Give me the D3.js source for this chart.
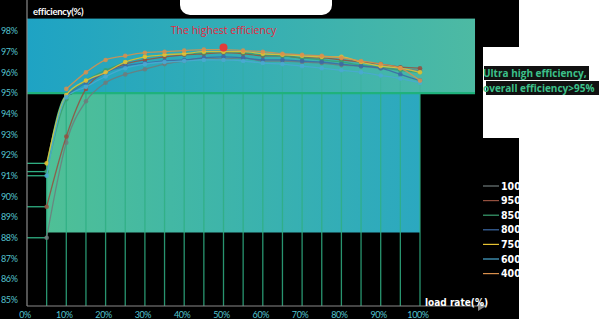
<!DOCTYPE html>
<html>
<head>
<meta charset="utf-8">
<script src="https://cdn.jsdelivr.net/npm/d3@7"></script>
<style>
  html, body { margin: 0; padding: 0; background: #fff; }
  svg { display: block; }
</style>
</head>
<body>
<svg id="chart" width="600" height="325"></svg>
<script>
// load rate points (%)
const loads = [5, 10, 15, 20, 25, 30, 35, 40, 45, 50, 55, 60, 65, 70, 75, 80, 85, 90, 95, 100]
const seriesNames = ["1000", "950", "850", "800", "750", "600", "400"]
const seriesColors = ["#6f7b7b", "#94503f", "#3aa070", "#3c6aa6", "#e6c232", "#4aa9d2", "#d98f4c"]

// efficiency (%)
const eff1000 = [88.0, 92.6, 94.6, 95.5, 95.9, 96.15, 96.4, 96.55, 96.7, 96.65, 96.7, 96.55, 96.55, 96.5, 96.45, 96.35, 96.3, 96.2, 96.15, 96.1]
const eff950 = [89.5, 92.9, 95.2, 96.0, 96.4, 96.6, 96.75, 96.85, 96.9, 96.95, 96.9, 96.8, 96.8, 96.7, 96.7, 96.6, 96.5, 96.4, 96.25, 96.2]
const eff850 = [91.2, 94.7, 95.6, 96.1, 96.5, 96.75, 96.85, 96.9, 96.95, 97.0, 96.95, 96.85, 96.8, 96.7, 96.6, 96.5, 96.35, 96.25, 96.1, 96.0]
const eff800 = [null, 94.9, 95.5, 96.0, 96.3, 96.45, 96.55, 96.6, 96.7, 96.75, 96.7, 96.6, 96.6, 96.55, 96.5, 96.4, 96.3, 96.2, 95.9, 95.6]
const eff750 = [91.6, 94.9, 95.6, 96.0, 96.5, 96.75, 96.85, 96.9, 97.0, 97.0, 97.0, 96.9, 96.85, 96.8, 96.75, 96.75, 96.5, 96.3, 96.2, 96.0]
const eff600 = [91.0, 94.8, 95.3, 95.8, 96.2, 96.4, 96.5, 96.55, 96.6, 96.6, 96.55, 96.45, 96.4, 96.3, 96.2, 96.1, 96.0, 95.85, 95.7, 95.5]
const eff400 = [null, 95.2, 96.0, 96.6, 96.8, 96.95, 97.0, 97.05, 97.1, 97.1, 97.05, 97.0, 96.9, 96.85, 96.8, 96.7, 96.55, 96.4, 96.2, 95.6]
const seriesValues = [eff1000, eff950, eff850, eff800, eff750, eff600, eff400]

const peak = { load: 50, eff: 97.2 }
const yTicks = [85, 86, 87, 88, 89, 90, 91, 92, 93, 94, 95, 96, 97, 98]
const xTicks = [0, 10, 20, 30, 40, 50, 60, 70, 80, 90, 100]
const threshold = 95
const fillFloor = 88.25
const note = ["Ultra high efficiency,", "overall efficiency>95%"]

const x = d3.scaleLinear().domain([0, 100]).range([27, 420])
const y = d3.scaleLinear().domain([84.7, 98]).range([306, 31])

const svg = d3.select("#chart")
const defs = svg.append("defs")

const gradTop = defs.append("linearGradient").attr("id", "gTop")
gradTop.append("stop").attr("offset", "0%").attr("stop-color", "#1ea3c4")
gradTop.append("stop").attr("offset", "100%").attr("stop-color", "#4dbaa3")
const gradLow = defs.append("linearGradient").attr("id", "gLow")
gradLow.append("stop").attr("offset", "0%").attr("stop-color", "#4fc096")
gradLow.append("stop").attr("offset", "100%").attr("stop-color", "#2ba8c0")

// background
svg.append("rect").attr("x", 0).attr("y", 0).attr("width", 519).attr("height", 319).attr("fill", "#000")
svg.append("rect").attr("x", 483).attr("y", 47).attr("width", 40).attr("height", 91).attr("fill", "#fff")
svg.append("rect").attr("x", 180).attr("y", -12).attr("width", 152).attr("height", 27).attr("rx", 10).attr("fill", "#fff")

// upper band: 95% and above
svg.append("rect")
    .attr("x", x(0)).attr("y", y(98.6))
    .attr("width", x(114) - x(0)).attr("height", y(threshold) - y(98.6))
    .attr("fill", "url(#gTop)")

// lower fill under the 750 curve, capped at 95%
const fillArea = d3.area()
    .defined(d => d[1] != null)
    .x(d => x(d[0]))
    .y0(y(fillFloor))
    .y1(d => y(Math.min(threshold, d[1])))
    .curve(d3.curveMonotoneX)
svg.append("path")
    .datum(loads.map((l, i) => [l, eff750[i]]))
    .attr("fill", "url(#gLow)")
    .attr("d", fillArea)

// vertical grid lines
svg.append("g")
    .selectAll("line")
    .data(loads)
    .join("line")
    .attr("x1", d => x(d)).attr("x2", d => x(d))
    .attr("y1", (d, i) => y(Math.min(threshold, eff750[i])))
    .attr("y2", y(84.7))
    .attr("stroke", "#2fae82")
    .attr("stroke-width", 1.3)
    .attr("stroke-opacity", 0.85)
svg.append("g")
    .selectAll("line")
    .data(loads.slice(1))
    .join("line")
    .attr("x1", d => x(d)).attr("x2", d => x(d))
    .attr("y1", (d, i) => y(d3.min(seriesValues, s => s[i + 1])))
    .attr("y2", y(threshold))
    .attr("stroke", "#2fae82")
    .attr("stroke-opacity", 0.25)

// leader lines to the 5% starting points
svg.append("g")
    .selectAll("line")
    .data(seriesValues.map(s => s[0]).filter(v => v != null))
    .join("line")
    .attr("x1", x(0)).attr("x2", x(5))
    .attr("y1", d => y(d)).attr("y2", d => y(d))
    .attr("stroke", "#2fae82")
    .attr("stroke-width", 1.3)

// 95% line
svg.append("line")
    .attr("x1", x(0)).attr("x2", x(114))
    .attr("y1", y(threshold)).attr("y2", y(threshold))
    .attr("stroke", "#1fb27c")
    .attr("stroke-width", 2.2)

// axes
svg.append("line").attr("x1", x(0)).attr("x2", x(0)).attr("y1", 0).attr("y2", y(84.7))
    .attr("stroke", "#8a8a8a").attr("stroke-width", 1.2)
svg.append("line").attr("x1", x(0)).attr("x2", 478).attr("y1", y(84.7)).attr("y2", y(84.7))
    .attr("stroke", "#8a8a8a").attr("stroke-width", 1.2)
svg.append("path").attr("d", `M478,${y(84.7) - 5}L486,${y(84.7)}L478,${y(84.7) + 5}Z`).attr("fill", "#8a8a8a")

svg.append("g")
    .selectAll("text")
    .data(yTicks)
    .join("text")
    .attr("x", 1)
    .attr("y", d => y(d))
    .attr("dy", "0.35em")
    .attr("fill", "#54c3cf")
    .attr("font-family", "Lato, sans-serif")
    .attr("font-size", 9)
    .attr("letter-spacing", -0.4)
    .text(d => d + "%")

svg.append("g")
    .selectAll("text")
    .data(xTicks)
    .join("text")
    .attr("x", d => x(d) - 2)
    .attr("y", 318)
    .attr("text-anchor", "middle")
    .attr("fill", "#54c3cf")
    .attr("font-family", "Lato, sans-serif")
    .attr("font-size", 9)
    .attr("letter-spacing", -0.4)
    .text(d => d + "%")

svg.append("text").attr("x", 33).attr("y", 15)
    .attr("fill", "#fff").attr("font-family", "Lato, sans-serif").attr("font-weight", "bold")
    .attr("font-size", 9.5).attr("letter-spacing", -0.3).text("efficiency(%)")
svg.append("text").attr("x", 425).attr("y", 306)
    .attr("fill", "#fff").attr("font-family", "'Liberation Sans Narrow', 'DejaVu Sans Condensed', sans-serif")
    .attr("font-weight", "bold").attr("font-size", 10).text("load rate(%)")

// series lines and markers
const line = d3.line()
    .defined(d => d[1] != null)
    .x(d => x(d[0]))
    .y(d => y(d[1]))
    .curve(d3.curveMonotoneX)

const seriesG = svg.append("g")
seriesValues.forEach((vals, si) => {
    const pts = loads.map((l, i) => [l, vals[i]])
    seriesG.append("path")
        .datum(pts)
        .attr("fill", "none")
        .attr("stroke", seriesColors[si])
        .attr("stroke-width", 1.3)
        .attr("stroke-opacity", 0.85)
        .attr("d", line)
    seriesG.append("g")
        .selectAll("circle")
        .data(pts.filter(d => d[1] != null))
        .join("circle")
        .attr("cx", d => x(d[0]))
        .attr("cy", d => y(d[1]))
        .attr("r", 2.3)
        .attr("fill", seriesColors[si])
        .attr("fill-opacity", 0.85)
})

svg.append("circle").attr("cx", x(peak.load)).attr("cy", y(peak.eff)).attr("r", 4).attr("fill", "#e23c3a")
svg.append("text").attr("x", x(peak.load)).attr("y", 34)
    .attr("text-anchor", "middle").attr("fill", "#e8273f")
    .attr("font-family", "'Open Sans', sans-serif").attr("font-size", 10.5)
    .text("The highest efficiency")

// legend
const legend = svg.append("g")
    .selectAll("g")
    .data(seriesNames)
    .join("g")
    .attr("transform", (d, i) => `translate(483,${186 + i * 14.6})`)
legend.append("line").attr("x1", 0).attr("x2", 16)
    .attr("stroke", (d, i) => seriesColors[i]).attr("stroke-width", 1.2)
legend.append("text").attr("x", 18).attr("dy", "0.35em")
    .attr("fill", "#fff")
    .attr("font-family", "'Liberation Sans Narrow', 'DejaVu Sans Condensed', sans-serif")
    .attr("font-weight", "bold").attr("font-size", 10.5)
    .text(d => d)

// page margin on the right and bottom
svg.append("rect").attr("x", 519).attr("y", 0).attr("width", 81).attr("height", 325).attr("fill", "#fff")
svg.append("rect").attr("x", 0).attr("y", 319).attr("width", 600).attr("height", 6).attr("fill", "#fff")

// annotation on the right, over the page margin
svg.append("rect").attr("x", 484).attr("y", 66).attr("width", 105).attr("height", 14).attr("fill", "#111")
svg.append("rect").attr("x", 486).attr("y", 81).attr("width", 113).attr("height", 14).attr("fill", "#111")
svg.append("g")
    .selectAll("text")
    .data(note)
    .join("text")
    .attr("x", 483)
    .attr("y", (d, i) => 77 + i * 15)
    .attr("fill", "#3cc08a")
    .attr("font-family", "'Open Sans', sans-serif")
    .attr("font-weight", "bold")
    .attr("font-size", 10)
    .text(d => d)
</script>
</body>
</html>
